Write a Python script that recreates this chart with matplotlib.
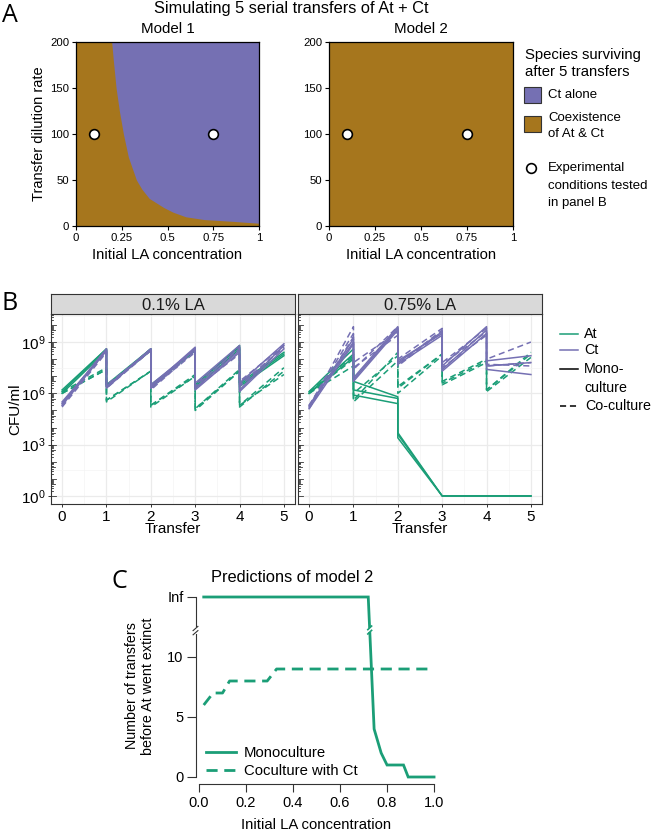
import numpy as np
import matplotlib.pyplot as plt
from matplotlib.lines import Line2D
from matplotlib.patches import Rectangle

plt.rcParams['font.family'] = ['Liberation Sans', 'DejaVu Sans']
plt.rcParams['mathtext.default'] = 'regular'

W, H = 653, 832
green = '#1B9E77'
purple = '#7570B3'
brown = '#A6761D'

# ---- panel A data ----
# boundary of "Ct alone" region in model 1 (dilution rate vs LA threshold)
boundary_dilution = [200, 180, 150, 125, 100, 75, 50, 40, 30, 20, 15, 10, 7, 5, 3]
boundary_la = [0.195, 0.204, 0.219, 0.237, 0.259, 0.286, 0.33, 0.36, 0.40, 0.48,
               0.53, 0.60, 0.70, 0.86, 1.0]
exp_la = [0.1, 0.75]
exp_dilution = [100, 100]

# ---- panel B data (log10 CFU/ml) ----
transfer_t = [0, 1, 1, 2, 2, 3, 3, 4, 4, 5]

low_at_mono = [[6.1, 8.6, 6.5, 8.6, 6.4, 8.5, 6.4, 8.8, 6.6, 8.4],
               [6.0, 8.5, 6.4, 8.5, 6.3, 8.6, 6.5, 8.7, 6.5, 8.3],
               [6.2, 8.6, 6.4, 8.6, 6.5, 8.5, 6.3, 8.6, 6.4, 8.2]]
low_at_co = [[6.0, 7.4, 5.6, 7.3, 5.3, 7.1, 5.1, 7.4, 5.3, 7.5],
             [6.0, 7.4, 5.6, 7.3, 5.3, 7.0, 5.1, 7.3, 5.2, 7.3],
             [6.1, 7.5, 5.5, 7.3, 5.2, 7.0, 5.0, 7.3, 5.3, 7.1]]
low_ct_mono = [[5.3, 8.5, 6.4, 8.6, 6.4, 8.7, 6.6, 8.8, 6.6, 8.9],
               [5.4, 8.6, 6.3, 8.6, 6.3, 8.6, 6.3, 8.5, 6.2, 8.8],
               [5.5, 8.5, 6.4, 8.5, 6.5, 8.6, 6.2, 8.4, 6.1, 8.6]]
low_ct_co = [[5.2, 8.4, 6.3, 8.5, 6.4, 8.6, 6.5, 8.6, 6.4, 8.7],
             [5.3, 8.5, 6.4, 8.6, 6.2, 8.5, 6.4, 8.7, 6.7, 8.8],
             [5.4, 8.6, 6.5, 8.5, 6.3, 8.4, 6.3, 8.3, 6.5, 8.7]]

high_at_mono = [[6.1, 8.6, 6.7, 5.8, 3.7, 0, 0, 0, 0, 0],
                [6.0, 8.3, 6.2, 5.7, 3.6, 0, 0, 0, 0, 0],
                [6.0, 8.1, 5.9, 5.4, 3.4, 0, 0, 0, 0, 0]]
high_at_co = [[6.0, 8.0, 5.6, 8.4, 6.4, 8.3, 6.7, 8.0, 6.2, 8.4],
              [6.0, 7.6, 5.5, 7.9, 6.0, 8.2, 6.5, 7.8, 6.1, 8.1],
              [6.1, 8.2, 6.0, 8.2, 6.3, 8.3, 6.6, 7.9, 6.2, 8.3]]
high_ct_mono = [[5.2, 9.2, 6.9, 9.9, 7.8, 9.6, 7.6, 9.9, 7.9, 8.2],
                [5.3, 9.0, 6.8, 9.8, 7.7, 9.4, 7.4, 9.7, 7.6, 7.8],
                [5.1, 8.9, 6.7, 9.7, 7.9, 9.5, 7.3, 9.5, 7.4, 7.1]]
high_ct_co = [[5.2, 9.9, 7.8, 9.6, 8.0, 9.8, 7.8, 9.8, 8.0, 9.0],
              [5.3, 9.5, 7.5, 9.4, 7.6, 9.6, 7.7, 9.6, 7.7, 7.6],
              [5.1, 9.3, 7.4, 9.9, 7.7, 9.7, 7.5, 9.4, 7.6, 7.8]]

# ---- panel C data ----
la_mono = [0.02, 0.72, 0.745, 0.775, 0.80, 0.87, 0.89, 1.0]
transfers_mono = [np.inf, np.inf, 4, 2, 1, 1, 0, 0]
la_co = [0.02, 0.06, 0.10, 0.13, 0.29, 0.33, 1.0]
transfers_co = [6, 7, 7, 8, 8, 9, 9]
INF_POS = 15


def ax_at(x0, y0, x1, y1):
    return fig.add_axes([x0 / W, 1 - y1 / H, (x1 - x0) / W, (y1 - y0) / H])


def ftext(x, y, s, **kw):
    kw.setdefault('ha', 'center')
    kw.setdefault('va', 'center')
    fig.text(x / W, 1 - y / H, s, **kw)


letter_font = ['Open Sans', 'DejaVu Sans']
fig = plt.figure(figsize=(W / 100, H / 100), dpi=100)

# ================= Panel A =================
ftext(10, 15, 'A', fontsize=18, family=letter_font)
ftext(291, 8, 'Simulating 5 serial transfers of At + Ct', fontsize=11.8)

for i, (x0, x1) in enumerate([(76, 259), (329, 513)]):
    ax = ax_at(x0, 42, x1, 226)
    ax.set_facecolor(brown)
    if i == 0:
        ax.fill_betweenx(boundary_dilution, boundary_la, 1.0, color=purple, lw=0)
    ax.plot(exp_la, exp_dilution, 'o', ms=7, mfc='white', mec='black', mew=1.2)
    ax.set_xlim(0, 1)
    ax.set_ylim(0, 200)
    ax.set_xticks([0, 0.25, 0.5, 0.75, 1])
    ax.set_xticklabels(['0', '0.25', '0.5', '0.75', '1'])
    ax.set_yticks([0, 50, 100, 150, 200])
    ax.tick_params(labelsize=8.2, length=3, width=0.8, pad=2)
    for s in ax.spines.values():
        s.set_linewidth(0.9)
    ftext((x0 + x1) / 2, 29, 'Model %d' % (i + 1), fontsize=10.9)
    ftext((x0 + x1) / 2, 255, 'Initial LA concentration', fontsize=10.7)
ftext(39, 134, 'Transfer dilution rate', fontsize=10.5, rotation=90)

# legend A
ftext(525, 55, 'Species surviving', fontsize=10.7, ha='left')
ftext(525, 72, 'after 5 transfers', fontsize=10.7, ha='left')
fig.add_artist(Rectangle((524 / W, 1 - 103 / H), 17 / W, 16 / H, transform=fig.transFigure,
                         fc=purple, ec='#333333', lw=0.8))
ftext(548, 95, 'Ct alone', fontsize=9.5, ha='left')
fig.add_artist(Rectangle((524 / W, 1 - 132 / H), 17 / W, 16 / H, transform=fig.transFigure,
                         fc=brown, ec='#333333', lw=0.8))
ftext(548, 118, 'Coexistence', fontsize=9.5, ha='left')
ftext(548, 134, 'of At & Ct', fontsize=9.5, ha='left')
fig.add_artist(Line2D([531 / W], [1 - 168 / H], marker='o', ms=7, mfc='white', mec='black',
                      mew=1.2, transform=fig.transFigure))
ftext(548, 168, 'Experimental', fontsize=9.5, ha='left')
ftext(548, 186, 'conditions tested', fontsize=9.5, ha='left')
ftext(548, 203, 'in panel B', fontsize=9.5, ha='left')

# ================= Panel B =================
ftext(10, 303, 'B', fontsize=18, family=letter_font)
panels = [((51, 295), '0.1% LA', low_at_mono, low_at_co, low_ct_mono, low_ct_co),
          ((298, 542), '0.75% LA', high_at_mono, high_at_co, high_ct_mono, high_ct_co)]
for k, ((x0, x1), strip, at_m, at_c, ct_m, ct_c) in enumerate(panels):
    ax = ax_at(x0, 314, x1, 504)
    sx = ax_at(x0, 294, x1, 314)
    sx.set_facecolor('#D9D9D9')
    sx.set_xticks([])
    sx.set_yticks([])
    for s in sx.spines.values():
        s.set_color('#333333')
        s.set_linewidth(0.8)
    sx.text(0.5, 0.45, strip, ha='center', va='center', fontsize=12, color='#1A1A1A',
            transform=sx.transAxes)

    for rep in at_m:
        ax.plot(transfer_t, 10 ** np.array(rep), color=green, lw=1.1)
    for rep in at_c:
        ax.plot(transfer_t, 10 ** np.array(rep), color=green, lw=1.1, ls=(0, (4, 2.5)))
    for rep in ct_m:
        ax.plot(transfer_t, 10 ** np.array(rep), color=purple, lw=1.1)
    for rep in ct_c:
        ax.plot(transfer_t, 10 ** np.array(rep), color=purple, lw=1.1, ls=(0, (4, 2.5)))

    ax.set_yscale('log')
    ax.set_xlim(-0.25, 5.25)
    ax.set_ylim(10 ** -0.47, 10 ** 10.64)
    ax.set_xticks(range(6))
    ax.set_xticks(np.arange(0.5, 5, 1), minor=True)
    ax.set_yticks([1e0, 1e3, 1e6, 1e9])
    ax.set_yticks(10 ** np.array([1.5, 4.5, 7.5, 10.5]), minor=True)
    ax.set_yticklabels(['$10^{0}$', '$10^{3}$', '$10^{6}$', '$10^{9}$'])
    ax.grid(True, which='major', color='#EBEBEB', lw=0.9)
    ax.grid(True, which='minor', color='#F4F4F4', lw=0.5)
    ax.set_axisbelow(True)
    ax.tick_params(which='major', labelsize=11, length=2.5, width=0.7, color='#333333', pad=1.5)
    ax.tick_params(which='minor', length=0)
    if k == 1:
        ax.tick_params(axis='y', labelleft=False, length=0)
    for s in ax.spines.values():
        s.set_color('#333333')
        s.set_linewidth(0.8)
    # log ticks inside the left edge
    tr = ax.get_yaxis_transform()
    for d in range(0, 11):
        for sub in range(1, 10):
            v = sub * 10.0 ** d
            if v > 10 ** 10.64:
                continue
            L = 0.022 if sub == 1 else (0.016 if sub == 5 else 0.01)
            ax.plot([0, L], [v, v], color='#333333', lw=0.6, transform=tr, clip_on=False)
    ftext((x0 + x1) / 2, 529, 'Transfer', fontsize=11)
ftext(15, 409, 'CFU/ml', fontsize=11, rotation=90)

# legend B
for yy, col, ls in [(334, green, '-'), (350, purple, '-'), (369, 'black', '-'),
                    (406, 'black', (0, (4, 2.5)))]:
    fig.add_artist(Line2D([560 / W, 578 / W], [1 - yy / H] * 2, color=col, lw=1.1, ls=ls,
                          transform=fig.transFigure))
ftext(584, 334, 'At', fontsize=10.3, ha='left')
ftext(584, 350, 'Ct', fontsize=10.3, ha='left')
ftext(584, 369, 'Mono-', fontsize=10.3, ha='left')
ftext(584, 388, 'culture', fontsize=10.3, ha='left')
ftext(585, 406, 'Co-culture', fontsize=10.3, ha='left')

# ================= Panel C =================
ftext(119, 581, 'C', fontsize=18, family=letter_font)
ftext(292, 578, 'Predictions of model 2', fontsize=11.8)
axc = fig.add_axes([195.5 / W, 1 - 784.2 / H, (436.4 - 195.5) / W, (784.2 - 593.4) / H])
mono_plot = [INF_POS if np.isinf(v) else v for v in transfers_mono]
axc.plot(la_mono, mono_plot, color=green, lw=2.0, label='Monoculture', solid_joinstyle='miter')
axc.plot(la_co, transfers_co, color=green, lw=2.0, ls=(0, (4, 2.4)), label='Coculture with Ct')
# break on the monoculture line
yb = 12.25
xb = np.interp(-yb, [-INF_POS, -4], [0.72, 0.745])
axc.add_patch(Rectangle((xb - 0.02, yb - 0.2), 0.04, 0.4, fc='white', ec='none', zorder=3))
for dy in (-0.18, 0.18):
    axc.plot([xb - 0.008, xb + 0.008], [yb + dy - 0.15, yb + dy + 0.15], color=green, lw=1.2,
             zorder=4)
axc.set_xlim(-0.015, 1.01)
axc.set_ylim(-0.6, 15.3)
axc.set_xticks([0, 0.2, 0.4, 0.6, 0.8, 1.0])
axc.set_xticklabels(['0.0', '0.2', '0.4', '0.6', '0.8', '1.0'])
axc.set_yticks([0, 5, 10, INF_POS])
axc.set_yticklabels(['0', '5', '10', 'Inf'])
axc.spines['top'].set_visible(False)
axc.spines['right'].set_visible(False)
axc.spines['left'].set_visible(False)
axc.spines['bottom'].set_bounds(0, 1)
axc.spines['bottom'].set_color('#333333')
axc.tick_params(axis='y', length=6.5, width=0.8, color='#333333', labelsize=10.5, pad=2)
axc.tick_params(axis='x', length=5.5, width=0.8, color='#333333', labelsize=10.5, pad=3)
tr = axc.get_yaxis_transform()
axc.plot([0, 0], [0, 11.95], color='#333333', lw=0.8, transform=tr, clip_on=False)
axc.plot([0, 0], [12.55, INF_POS], color='#333333', lw=0.8, transform=tr, clip_on=False)
for y0 in (11.95, 12.3):
    axc.plot([-0.01, 0.01], [y0 - 0.1, y0 + 0.25], color='#333333', lw=0.8, transform=tr,
             clip_on=False)
axc.legend(loc='lower left', bbox_to_anchor=(0.045, 0.03), frameon=False, fontsize=10.7,
           handlelength=2.0, handletextpad=0.55, labelspacing=0.3, borderaxespad=0,
           borderpad=0)
ftext(140, 686, 'Number of transfers\nbefore At went extinct', fontsize=10.3, rotation=90,
      linespacing=1.1)
ftext(316, 825, 'Initial LA concentration', fontsize=10.7)

fig.savefig('out.png', dpi=100)
